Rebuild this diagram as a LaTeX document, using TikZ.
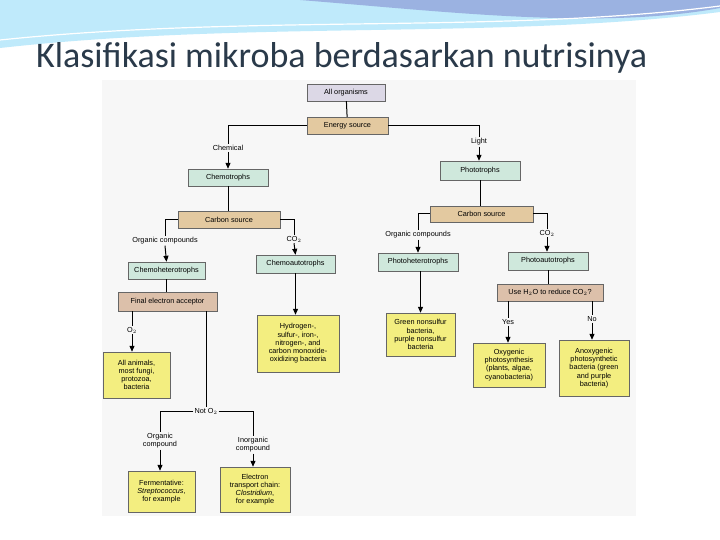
\documentclass[tikz,border=0pt]{standalone}
\usepackage{fontspec}
\setmainfont{Liberation Sans}
\newfontfamily\titlefont{Carlito}
\usetikzlibrary{arrows.meta}
\definecolor{lav}{HTML}{DCD8E6}
\definecolor{tan}{HTML}{E3C9A0}
\definecolor{grn}{HTML}{CFE8DC}
\definecolor{fea}{HTML}{DCC0AA}
\definecolor{yel}{HTML}{F3EE80}
\definecolor{ttl}{HTML}{2A3A4A}
\tikzset{
 bx/.style={draw=black!60, line width=0.4pt, font=\fontsize{7.3}{8.2}\selectfont, inner sep=1pt, align=center},
 lab/.style={font=\fontsize{7.3}{8.2}\selectfont, inner sep=1pt, fill=black!3, align=center},
 ln/.style={line width=1pt},
 ar/.style={line width=1pt,-{Triangle[length=6pt,width=5pt]}}
}
\newcommand{\B}[6]{\node[bx,fill=#6,minimum width=#3pt,minimum height=#4pt] (#1) at #2 {#5};}
\begin{document}
\begin{tikzpicture}[x=1pt,y=-1pt]
\useasboundingbox (0,0) rectangle (720,540);
\fill[white] (0,0) rectangle (720,540);
% swoosh
\fill[cyan!25] (0,0) -- (720,0) -- (720,12) .. controls (500,40) and (250,20) .. (0,48) -- cycle;
\fill[cyan!45!blue!40] (300,0) -- (720,0) -- (720,8) .. controls (600,30) and (450,12) .. (300,0);
\draw[white,line width=1.2pt] (0,40) .. controls (250,14) and (500,34) .. (720,6);
\node[font=\titlefont\fontsize{36}{40}\selectfont,text=ttl,anchor=west,inner sep=0pt] (title) at (36,58) {Klasifikasi mikroba berdasarkan nutrisinya};
\fill[black!3] (102,80) rectangle (636,516);
% boxes
\B{all}{(346,92.5)}{78}{17}{All organisms}{lav}
\B{en}{(347.5,125.5)}{81}{17}{Energy source}{tan}
\B{chemo}{(228,177.5)}{80}{17}{Chemotrophs}{grn}
\B{cs1}{(229,219.5)}{102}{17}{Carbon source}{tan}
\B{chet}{(166.5,270.5)}{77}{17}{Chemoheterotrophs}{grn}
\B{caut}{(295.5,264)}{79}{18}{Chemoautotrophs}{grn}
\B{fea}{(167.5,301.5)}{99}{19}{Final electron acceptor}{fea}
\B{anim}{(136.5,375)}{67}{46}{All animals,\\most fungi,\\protozoa,\\bacteria}{yel}
\B{ferm}{(161.5,491.5)}{67}{41}{Fermentative:\\\textit{Streptococcus},\\for example}{yel}
\B{etc}{(255,489.5)}{70}{45}{Electron\\transport chain:\\\textit{Clostridium},\\for example}{yel}
\B{hyd}{(298,343.5)}{82}{57}{Hydrogen-,\\sulfur-, iron-,\\nitrogen-, and\\carbon monoxide-\\oxidizing bacteria}{yel}
\B{photo}{(480,170.5)}{80}{19}{Phototrophs}{grn}
\B{cs2}{(481.5,214)}{103}{16}{Carbon source}{tan}
\B{phet}{(418,262)}{80}{18}{Photoheterotrophs}{grn}
\B{paut}{(548,261)}{80}{18}{Photoautotrophs}{grn}
\B{gns}{(420.5,334.5)}{69}{43}{Green nonsulfur\\bacteria,\\purple nonsulfur\\bacteria}{yel}
\B{h2o}{(550,292.5)}{106}{17}{Use H$_2$O to reduce CO$_2$?}{fea}
\B{oxy}{(509,365)}{72}{44}{Oxygenic\\photosynthesis\\(plants, algae,\\cyanobacteria)}{yel}
\B{anox}{(594,368)}{70}{56}{Anoxygenic\\photosynthetic\\bacteria (green\\and purple\\bacteria)}{yel}
% labels
\node[lab] (lchem) at (228,148) {Chemical};
\node[lab] (lorg1) at (165,241) {Organic compounds};
\node[lab] (lco1) at (294,239) {CO$_2$};
\node[lab] (lo2) at (132,330) {O$_2$};
\node[lab] (lnot) at (206,411) {Not O$_2$};
\node[lab] (lorgc) at (160,441) {Organic\\compound};
\node[lab] (linorg) at (253,445) {Inorganic\\compound};
\node[lab] (llight) at (479,142) {Light};
\node[lab] (lorg2) at (418,235) {Organic compounds};
\node[lab] (lco2) at (547,233) {CO$_2$};
\node[lab] (lyes) at (508,322) {Yes};
\node[lab] (lno) at (592,319) {No};
% connectors
\draw[ln] (all) -- (en);
\draw[ln] (en.west) -| (lchem.north);
\draw[ar] (lchem.south) -- (chemo.north);
\draw[ln] (chemo) -- (chemo |- cs1.north);
\draw[ln] (cs1.west) -| (lorg1.north);
\draw[ar] (lorg1.south) -- (chet.north);
\draw[ln] (cs1.east) -| (lco1.north);
\draw[ar] (lco1.south) -- (caut.north);
\draw[ln] (chet) -- (chet |- fea.north);
\draw[ln] (fea.south -| lo2) -- (lo2.north);
\draw[ar] (lo2.south) -- (lo2.south |- anim.north);
\draw[ln] (fea.south -| lnot) -- (lnot.north);
\draw[ln] (lnot.west) -| (lorgc.north);
\draw[ar] (lorgc.south) -- (lorgc.south |- ferm.north);
\draw[ln] (lnot.east) -| (linorg.north);
\draw[ar] (linorg.south) -- (linorg.south |- etc.north);
\draw[ar] (caut.south) -- (caut.south |- hyd.north);
\draw[ln] (en.east) -| (llight.north);
\draw[ar] (llight.south) -- (llight.south |- photo.north);
\draw[ln] (photo) -- (photo.south |- cs2.north);
\draw[ln] (cs2.west) -| (lorg2.north);
\draw[ar] (lorg2.south) -- (phet.north);
\draw[ln] (cs2.east) -| (lco2.north);
\draw[ar] (lco2.south) -- (lco2.south |- paut.north);
\draw[ar] (phet.south -| gns) -- (gns.north);
\draw[ln] (paut) -- (paut.south |- h2o.north);
\draw[ln] (h2o.south -| lyes) -- (lyes.north);
\draw[ar] (lyes.south) -- (lyes.south |- oxy.north);
\draw[ln] (h2o.south -| lno) -- (lno.north);
\draw[ar] (lno.south) -- (lno.south |- anox.north);
\end{tikzpicture}
\end{document}
